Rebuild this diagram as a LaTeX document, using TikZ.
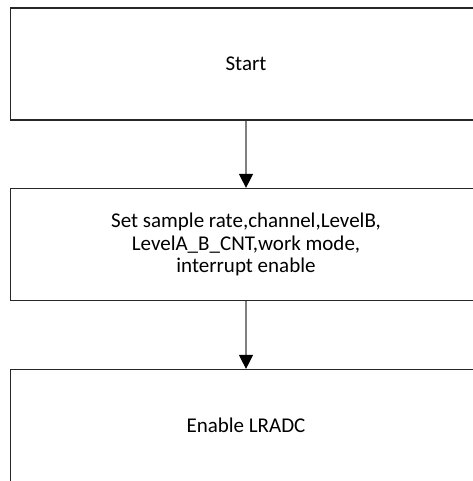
\documentclass[tikz,border=0pt]{standalone}
\usepackage{fontspec}
\setmainfont{Carlito}
\usetikzlibrary{arrows.meta}

\begin{document}
\begin{tikzpicture}[x=0.5pt, y=-0.5pt,
    bloc/.style={draw=black!85, line width=0.6pt, minimum width=235.5pt, minimum height=56pt,
        align=center, inner sep=0pt, font=\fontsize{10.5}{11.2}\selectfont},
    fleche/.style={draw=black!50, line width=0.6pt, -{Triangle[length=7pt,width=7pt,color=black]}}]
    % Cadre de l'image
    \useasboundingbox (0,0) rectangle (472,481);
    
    % Les trois etapes
    \node[bloc] (start) at (246,64) {Start};
    \node[bloc] (setup) at (246,244.5) {Set sample rate,channel,LevelB,\\LevelA\_B\_CNT,work mode,\\interrupt enable};
    \node[bloc] (enable) at (246,425.5) {Enable LRADC};
    
    % Liaisons
    \draw[fleche] (start) -- (setup);
    \draw[fleche] (setup) -- (enable);
\end{tikzpicture}
\end{document}
